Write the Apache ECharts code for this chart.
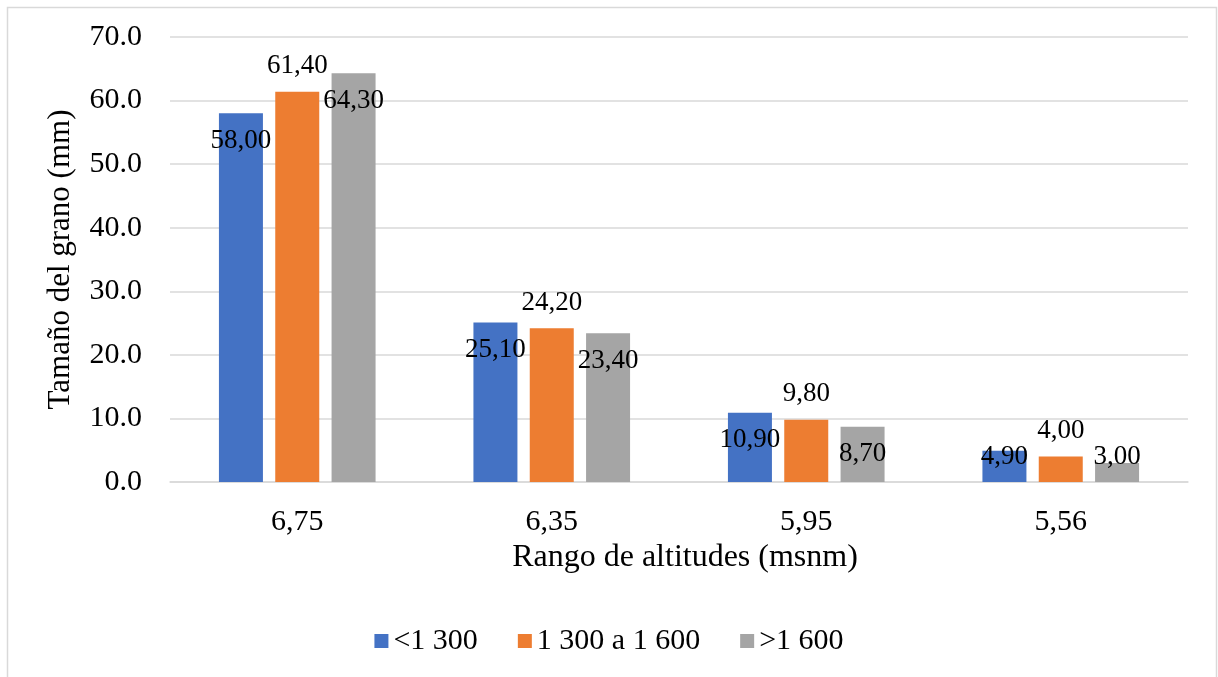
<!DOCTYPE html>
<html>
<head>
<meta charset="utf-8">
<title>Tamaño del grano por rango de altitudes</title>
<script src="https://cdn.jsdelivr.net/npm/echarts@6/dist/echarts.min.js"></script>
<style>
  html, body { margin: 0; padding: 0; background: #ffffff; }
  #chart { width: 1218px; height: 677px; }
</style>
</head>
<body>
<div id="chart"></div>
<script>
// Categories along the x axis
const categories = ['6,75', '6,35', '5,95', '5,56'];

// Series names (altitude ranges)
const seriesNames = ['<1 300', '1 300 a 1 600', '>1 600'];

// Grain size values per series
const valuesLow = [58.0, 25.1, 10.9, 4.9];
const valuesMid = [61.4, 24.2, 9.8, 4.0];
const valuesHigh = [64.3, 23.4, 8.7, 3.0];

// Y axis range
const yMin = 0;
const yMax = 70;
const yStep = 10;

const colors = ['#4472C4', '#ED7D31', '#A5A5A5'];
const FONT = '"Liberation Serif", "Times New Roman", serif';

const fmtComma = v => v.toFixed(2).replace('.', ',');

const chart = echarts.init(document.getElementById('chart'), null, { renderer: 'canvas' });

const labelInside = {
  show: true,
  position: 'insideTop',
  distance: 14,
  color: '#000',
  fontFamily: FONT,
  fontSize: 27,
  formatter: p => fmtComma(p.value)
};
const labelAbove = {
  show: true,
  position: 'top',
  distance: 12,
  color: '#000',
  fontFamily: FONT,
  fontSize: 27,
  formatter: p => fmtComma(p.value)
};

function barSeries(name, values, color, label) {
  return {
    name: name,
    type: 'bar',
    data: values.map(v => ({ value: v })),
    barWidth: 44,
    barGap: '28%',
    itemStyle: { color: color },
    label: label,
    emphasis: { disabled: true }
  };
}

const option = {
  animation: false,
  color: colors,
  textStyle: { fontFamily: FONT },
  graphic: [{
    type: 'rect',
    shape: { x: 7.5, y: 7.5, width: 1209, height: 700 },
    style: { fill: 'none', stroke: '#d9d9d9', lineWidth: 1.5 },
    silent: true
  }],
  grid: { left: 170, right: 30, top: 37, bottom: 195 },
  legend: {
    data: seriesNames,
    bottom: 16,
    left: 'center',
    icon: 'rect',
    itemWidth: 14,
    itemHeight: 14,
    itemGap: 40,
    textStyle: { fontFamily: FONT, fontSize: 30, color: '#000' }
  },
  xAxis: {
    type: 'category',
    data: categories,
    name: 'Rango de altitudes (msnm)',
    nameLocation: 'middle',
    nameGap: 57,
    nameTextStyle: { fontFamily: FONT, fontSize: 32, color: '#000', padding: [0, 0, 0, 12] },
    axisLine: { lineStyle: { color: '#d9d9d9', width: 1.5 } },
    axisTick: { show: false },
    axisLabel: { fontFamily: FONT, fontSize: 30, color: '#000', margin: 25 }
  },
  yAxis: {
    type: 'value',
    min: yMin,
    max: yMax,
    interval: yStep,
    name: 'Tamaño del grano (mm)',
    nameLocation: 'middle',
    nameGap: 94,
    nameTextStyle: { fontFamily: FONT, fontSize: 31, color: '#000' },
    axisLine: { show: false },
    axisTick: { show: false },
    splitLine: { lineStyle: { color: '#d9d9d9', width: 1.5 } },
    axisLabel: {
      fontFamily: FONT, fontSize: 30, color: '#000', margin: 28,
      formatter: v => v.toFixed(1)
    }
  },
  series: [
    barSeries(seriesNames[0], valuesLow, colors[0], labelInside),
    barSeries(seriesNames[1], valuesMid, colors[1], labelAbove),
    barSeries(seriesNames[2], valuesHigh, colors[2], labelInside)
  ]
};

chart.setOption(option);

// Short bars: keep the inside labels from dropping below the baseline
const zeroPx = chart.convertToPixel({ yAxisIndex: 0 }, 0);
const lowestCenter = zeroPx - 25;
function clampLabels(values) {
  return values.map(v => {
    const top = chart.convertToPixel({ yAxisIndex: 0 }, v);
    const center = top + 28;
    const item = { value: v };
    if (center > lowestCenter) {
      item.label = { offset: [0, lowestCenter - center] };
    }
    return item;
  });
}
chart.setOption({
  series: [
    { data: clampLabels(valuesLow) },
    {},
    { data: clampLabels(valuesHigh) }
  ]
});
</script>
</body>
</html>
